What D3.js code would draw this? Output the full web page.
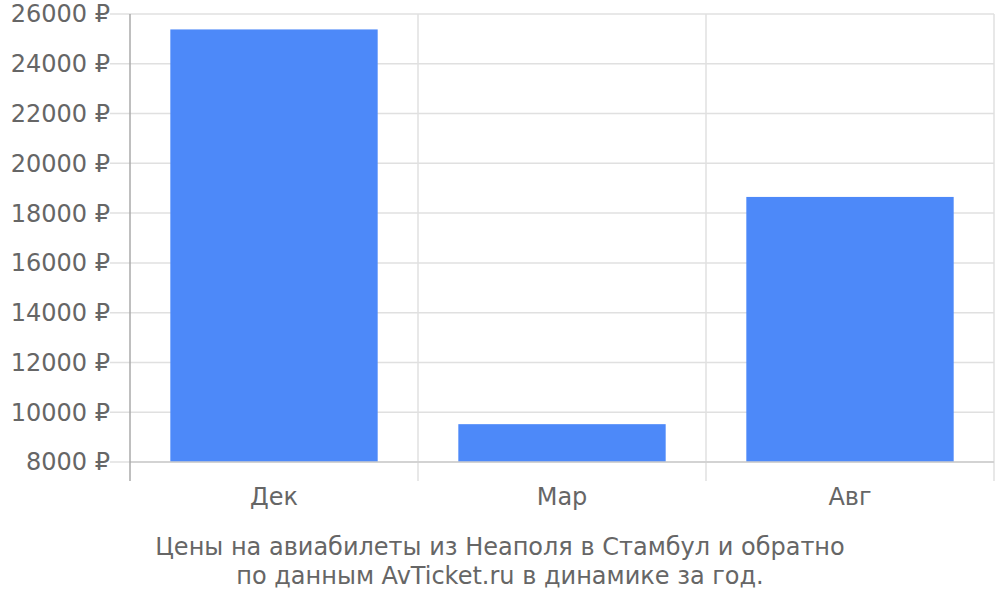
<!DOCTYPE html>
<html><head><meta charset="utf-8">
<script src="https://cdn.jsdelivr.net/npm/d3@7"></script>
<style>body{margin:0;background:#fff}svg{display:block}</style>
</head><body>
<svg id="c" width="1000" height="600"></svg>
<script>
const categories = ["Дек", "Мар", "Авг"];
const prices = [25380, 9520, 18650];
const yTicks = [8000, 10000, 12000, 14000, 16000, 18000, 20000, 22000, 24000, 26000];
const titleLines = ["Цены на авиабилеты из Неаполя в Стамбул и обратно", "по данным AvTicket.ru в динамике за год."];

const svg = d3.select("#c");
const L = 130, R = 994, T = 14, B = 462;
const font = "DejaVu Sans, sans-serif";
const fs = 24;
const x = d3.scaleBand().domain(categories).range([L, R]).paddingInner(0).paddingOuter(0);
const y = d3.scaleLinear().domain([8000, 26000]).range([B, T]);

// horizontal grid
svg.append("g").selectAll("line").data(yTicks).join("line")
  .attr("x1", L - 20).attr("x2", R)
  .attr("y1", d => y(d)).attr("y2", d => y(d))
  .attr("stroke", "#e0e0e0").attr("stroke-width", 1.5);

// vertical grid (band boundaries)
const bounds = categories.map(c => x(c)).concat([R]);
svg.append("g").selectAll("line").data(bounds.slice(1)).join("line")
  .attr("x1", d => d).attr("x2", d => d)
  .attr("y1", T).attr("y2", B + 19)
  .attr("stroke", "#e0e0e0").attr("stroke-width", 1.5);

// bars
const inset = x.bandwidth() * 0.14;
svg.append("g").selectAll("rect").data(prices).join("rect")
  .attr("x", (d, i) => x(categories[i]) + inset)
  .attr("width", x.bandwidth() - 2 * inset)
  .attr("y", d => y(d))
  .attr("height", d => y(8000) - y(d))
  .attr("fill", "#4d89f9");

// baseline
svg.append("line").attr("x1", L).attr("x2", R).attr("y1", B).attr("y2", B)
  .attr("stroke", "#cccccc").attr("stroke-width", 1.5);
// y axis line
svg.append("line").attr("x1", L).attr("x2", L).attr("y1", T).attr("y2", B + 19)
  .attr("stroke", "#aaaaaa").attr("stroke-width", 1.5);

// y labels
svg.append("g").selectAll("text").data(yTicks).join("text")
  .attr("x", L - 20).attr("y", d => y(d)).attr("dy", "0.35em")
  .attr("text-anchor", "end").attr("font-family", font).attr("font-size", fs)
  .attr("fill", "#666").text(d => d + " ₽");

// x labels
svg.append("g").selectAll("text").data(categories).join("text")
  .attr("x", d => x(d) + x.bandwidth() / 2).attr("y", 505)
  .attr("text-anchor", "middle").attr("font-family", font).attr("font-size", fs)
  .attr("fill", "#666").text(d => d);

// caption
svg.append("g").selectAll("text").data(titleLines).join("text")
  .attr("x", 500).attr("y", (d, i) => 555 + i * 29)
  .attr("text-anchor", "middle").attr("font-family", font).attr("font-size", fs)
  .attr("fill", "#666").text(d => d);
</script>
</body></html>
